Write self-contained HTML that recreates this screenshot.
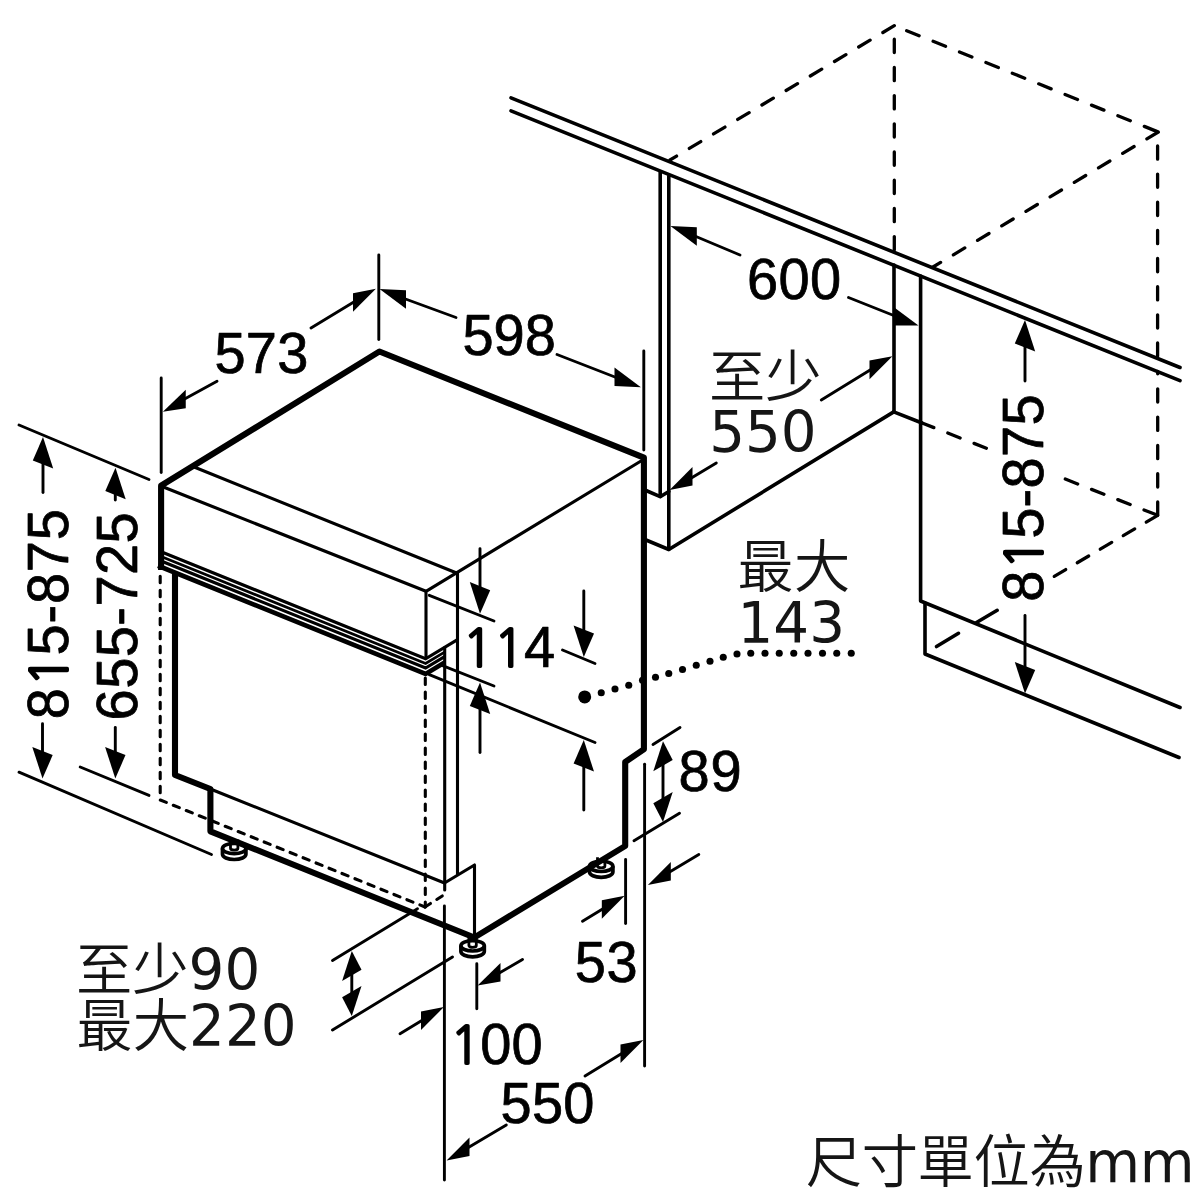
<!DOCTYPE html>
<html lang="zh-Hant">
<head>
<meta charset="utf-8">
<title>尺寸單位為mm</title>
<style>
html,body{margin:0;padding:0;background:#fff;}
body{width:1200px;height:1200px;overflow:hidden;}
svg{display:block;filter:blur(0.35px);}
svg path{fill:none;stroke:#000;}
svg ellipse{stroke:#000;}
</style>
</head>
<body>
<svg width="1200" height="1200" viewBox="0 0 1200 1200">
<rect x="0" y="0" width="1200" height="1200" fill="#fff"/>
<g stroke-width="3.7" fill="#fff" stroke-linejoin="round"><path d="M222.50 848.50 v5.8 a11.7 5.2 0 0 0 23.4 0 v-5.8" /><ellipse cx="234.20" cy="848.50" rx="11.7" ry="5.2"/><path d="M230.50 839.50 V848.30 a3.7 1.8 0 0 0 7.4 0 V839.50" stroke-width="2.8"/></g>
<g stroke-width="3.7" fill="#fff" stroke-linejoin="round"><path d="M460.90 945.80 v5.8 a11.7 5.2 0 0 0 23.4 0 v-5.8" /><ellipse cx="472.60" cy="945.80" rx="11.7" ry="5.2"/><path d="M468.90 936.80 V945.60 a3.7 1.8 0 0 0 7.4 0 V936.80" stroke-width="2.8"/></g>
<g stroke-width="3.7" fill="#fff" stroke-linejoin="round"><path d="M589.50 866.30 v5.8 a11.7 5.2 0 0 0 23.4 0 v-5.8" /><ellipse cx="601.20" cy="866.30" rx="11.7" ry="5.2"/><path d="M597.50 857.30 V866.10 a3.7 1.8 0 0 0 7.4 0 V857.30" stroke-width="2.8"/></g>
<path d="M511.00 97.90 L1180.00 367.50" stroke-width="3.6" stroke-linecap="round" stroke-linejoin="round" />
<path d="M511.00 110.80 L1180.00 380.70" stroke-width="3.6" stroke-linecap="round" stroke-linejoin="round" />
<path d="M660.20 172.00 L660.20 496.50" stroke-width="3.6" stroke-linecap="round" stroke-linejoin="round" />
<path d="M668.80 176.00 L668.80 549.50" stroke-width="3.6" stroke-linecap="round" stroke-linejoin="round" />
<path d="M646.00 490.50 L660.20 496.70 L668.80 491.50" stroke-width="3.6" stroke-linecap="round" stroke-linejoin="round" />
<path d="M646.00 540.00 L668.80 549.50 L893.75 411.90" stroke-width="3.6" stroke-linecap="round" stroke-linejoin="round" />
<path d="M894.00 265.00 L894.00 411.90" stroke-width="3.6" stroke-linecap="round" stroke-linejoin="round" />
<path d="M920.60 276.00 L920.60 601.00 L1180.00 707.50" stroke-width="3.6" stroke-linecap="round" stroke-linejoin="round" />
<path d="M925.00 603.00 L925.00 654.00 L1179.00 757.50" stroke-width="3.6" stroke-linecap="round" stroke-linejoin="round" />
<path d="M893.75 411.90 L922.00 423.00" stroke-width="3.6" stroke-linecap="round" stroke-linejoin="round" />
<path d="M894.30 25.70 L670.00 160.00" stroke-width="3.3" stroke-dasharray="13.3 14.9" stroke-linecap="round" stroke-linejoin="round" stroke-dashoffset="0"/>
<path d="M894.30 25.70 L1158.30 132.00" stroke-width="3.3" stroke-dasharray="13.4 15.06" stroke-linecap="round" stroke-linejoin="round" stroke-dashoffset="15.1"/>
<path d="M894.30 25.70 L894.30 250.00" stroke-width="3.3" stroke-dasharray="13.3 14.9" stroke-linecap="round" stroke-linejoin="round" stroke-dashoffset="14.7"/>
<path d="M1158.30 132.00 L933.00 267.00" stroke-width="3.3" stroke-dasharray="13.3 14.9" stroke-linecap="round" stroke-linejoin="round" stroke-dashoffset="0"/>
<path d="M1157.60 132.00 L1157.60 358.50" stroke-width="3.3" stroke-dasharray="13.3 14.85" stroke-linecap="round" stroke-linejoin="round" stroke-dashoffset="14.25"/>
<path d="M1157.70 515.30 L1157.70 371.50" stroke-width="3.3" stroke-dasharray="13.3 15" stroke-linecap="round" stroke-linejoin="round" stroke-dashoffset="0"/>
<path d="M921.50 422.80 L991.00 450.00" stroke-width="3.3" stroke-dasharray="13.3 14.9" stroke-linecap="round" stroke-linejoin="round" stroke-dashoffset="0"/>
<path d="M1061.00 477.40 L1157.70 515.30" stroke-width="3.3" stroke-dasharray="13.3 14.9" stroke-linecap="round" stroke-linejoin="round" stroke-dashoffset="23.6"/>
<path d="M1157.70 515.30 L1048.00 580.00" stroke-width="3.3" stroke-dasharray="13.3 13.4" stroke-linecap="round" stroke-linejoin="round" stroke-dashoffset="0"/>
<path d="M997.20 610.30 L976.50 622.50" stroke-width="3.6" stroke-linecap="round" stroke-linejoin="round" />
<path d="M958.50 633.30 L936.50 646.50" stroke-width="3.6" stroke-linecap="round" stroke-linejoin="round" />
<path d="M161.10 570.00 L161.10 485.70 L379.40 351.50 L643.90 457.60 L643.90 749.30 L625.20 762.00 L625.20 846.00 L474.30 937.50 L210.40 831.30 L210.40 789.00 L175.00 775.00 L175.00 572.00" stroke-width="6.1" stroke-linecap="butt" stroke-linejoin="round" />
<path d="M194.70 467.30 L456.00 572.70" stroke-width="3.1" stroke-linecap="round" stroke-linejoin="round" />
<path d="M164.00 487.30 L426.00 591.30" stroke-width="3.1" stroke-linecap="round" stroke-linejoin="round" />
<path d="M641.00 461.00 L426.00 591.30 L426.00 657.00" stroke-width="3.1" stroke-linecap="round" stroke-linejoin="round" />
<path d="M161.10 551.80 L425.60 658.79 L457.50 639.65" stroke-width="3.2" stroke-linecap="butt" stroke-linejoin="miter" />
<path d="M161.10 556.50 L425.60 663.49 L445.00 651.85" stroke-width="2.8" stroke-linecap="butt" stroke-linejoin="miter" />
<path d="M161.10 561.10 L425.60 668.09 L445.00 656.45" stroke-width="3.2" stroke-linecap="butt" stroke-linejoin="miter" />
<path d="M158.00 565.75 L425.60 673.99 L445.00 662.35" stroke-width="4.7" stroke-linecap="butt" stroke-linejoin="miter" />
<path d="M457.50 572.50 L457.50 874.00" stroke-width="3.1" stroke-linecap="round" stroke-linejoin="round" />
<path d="M444.70 647.50 L444.70 890.00" stroke-width="3.1" stroke-linecap="round" stroke-linejoin="round" />
<path d="M210.40 789.00 L444.50 883.00 L474.50 865.00 L474.50 936.00" stroke-width="3.1" stroke-linecap="round" stroke-linejoin="round" />
<path d="M160.20 576.30 L160.20 800.00" stroke-width="3.1" stroke-dasharray="6.5 7.5" stroke-linecap="round" stroke-linejoin="round" />
<path d="M160.30 800.00 L425.00 907.00" stroke-width="3.1" stroke-dasharray="6.5 7.5" stroke-linecap="round" stroke-linejoin="round" />
<path d="M425.30 678.00 L425.30 907.00" stroke-width="3.1" stroke-dasharray="6.5 7.5" stroke-linecap="round" stroke-linejoin="round" />
<path d="M425.00 907.00 L444.50 894.50" stroke-width="3.1" stroke-dasharray="6.5 7.5" stroke-linecap="round" stroke-linejoin="round" />
<path d="M161.20 378.00 L161.20 472.50" stroke-width="2.9" stroke-linecap="round" stroke-linejoin="round" />
<path d="M378.80 255.00 L378.80 339.50" stroke-width="2.9" stroke-linecap="round" stroke-linejoin="round" />
<path d="M643.80 351.00 L643.80 450.00" stroke-width="2.9" stroke-linecap="round" stroke-linejoin="round" />
<path d="M311.00 328.00 L360.00 298.30" stroke-width="2.9" stroke-linecap="round" stroke-linejoin="round" />
<polygon points="375.90,288.71 353.00,293.26 353.00,311.86" fill="#000" stroke="none"/>
<path d="M217.00 381.25 L180.00 401.50" stroke-width="2.9" stroke-linecap="round" stroke-linejoin="round" />
<polygon points="162.85,411.75 185.75,389.63 185.75,408.23" fill="#000" stroke="none"/>
<path d="M456.00 317.50 L400.00 297.00" stroke-width="2.9" stroke-linecap="round" stroke-linejoin="round" />
<polygon points="379.60,288.89 406.00,290.15 406.00,308.75" fill="#000" stroke="none"/>
<path d="M557.00 354.50 L620.00 379.00" stroke-width="2.9" stroke-linecap="round" stroke-linejoin="round" />
<polygon points="640.90,387.36 614.50,367.50 614.50,386.10" fill="#000" stroke="none"/>
<path d="M740.00 255.00 L690.00 234.00" stroke-width="2.9" stroke-linecap="round" stroke-linejoin="round" />
<polygon points="670.40,225.94 696.80,227.20 696.80,245.80" fill="#000" stroke="none"/>
<path d="M848.50 297.50 L900.00 318.00" stroke-width="2.9" stroke-linecap="round" stroke-linejoin="round" />
<polygon points="918.50,325.50 894.30,307.50 894.30,325.50" fill="#000" stroke="none"/>
<path d="M821.30 400.00 L875.00 367.00" stroke-width="2.9" stroke-linecap="round" stroke-linejoin="round" />
<polygon points="892.40,356.16 869.50,360.60 869.50,379.20" fill="#000" stroke="none"/>
<path d="M716.30 463.00 L688.00 480.00" stroke-width="2.9" stroke-linecap="round" stroke-linejoin="round" />
<polygon points="669.60,490.04 692.50,467.00 692.50,485.60" fill="#000" stroke="none"/>
<path d="M1025.00 340.00 L1025.00 381.00" stroke-width="2.9" stroke-linecap="round" stroke-linejoin="round" />
<polygon points="1025.00,320.00 1014.80,343.42 1035.20,351.58" fill="#000" stroke="none"/>
<path d="M1025.00 615.50 L1025.00 675.00" stroke-width="2.9" stroke-linecap="round" stroke-linejoin="round" />
<polygon points="1025.00,693.50 1014.80,661.92 1035.20,670.08" fill="#000" stroke="none"/>
<path d="M19.00 425.00 L149.00 479.50" stroke-width="2.9" stroke-linecap="round" stroke-linejoin="round" />
<path d="M19.00 772.20 L211.50 854.50" stroke-width="2.9" stroke-linecap="round" stroke-linejoin="round" />
<path d="M80.20 767.00 L149.00 795.40" stroke-width="2.9" stroke-linecap="round" stroke-linejoin="round" />
<path d="M43.00 460.00 L43.00 492.50" stroke-width="2.9" stroke-linecap="round" stroke-linejoin="round" />
<polygon points="43.00,437.00 32.80,460.42 53.20,468.58" fill="#000" stroke="none"/>
<path d="M42.50 723.80 L42.50 760.00" stroke-width="2.9" stroke-linecap="round" stroke-linejoin="round" />
<polygon points="42.50,778.50 32.30,746.92 52.70,755.08" fill="#000" stroke="none"/>
<path d="M115.30 490.00 L115.30 500.00" stroke-width="2.9" stroke-linecap="round" stroke-linejoin="round" />
<polygon points="115.50,467.70 105.30,491.12 125.70,499.28" fill="#000" stroke="none"/>
<path d="M115.30 727.50 L115.30 760.00" stroke-width="2.9" stroke-linecap="round" stroke-linejoin="round" />
<polygon points="115.30,778.50 105.10,746.92 125.50,755.08" fill="#000" stroke="none"/>
<path d="M429.30 595.30 L494.00 621.00" stroke-width="2.9" stroke-linecap="round" stroke-linejoin="round" />
<path d="M440.00 664.70 L494.00 686.00" stroke-width="2.9" stroke-linecap="round" stroke-linejoin="round" />
<path d="M480.00 548.80 L480.00 595.00" stroke-width="2.9" stroke-linecap="round" stroke-linejoin="round" />
<polygon points="480.00,613.70 469.80,582.12 490.20,590.28" fill="#000" stroke="none"/>
<path d="M480.00 700.00 L480.00 752.50" stroke-width="2.9" stroke-linecap="round" stroke-linejoin="round" />
<polygon points="480.00,682.50 469.80,705.92 490.20,714.08" fill="#000" stroke="none"/>
<path d="M562.50 650.00 L595.00 663.50" stroke-width="2.9" stroke-linecap="round" stroke-linejoin="round" />
<path d="M429.30 674.70 L595.00 742.50" stroke-width="2.9" stroke-linecap="round" stroke-linejoin="round" />
<path d="M583.80 591.00 L583.80 640.00" stroke-width="2.9" stroke-linecap="round" stroke-linejoin="round" />
<polygon points="583.80,657.00 573.60,625.42 594.00,633.58" fill="#000" stroke="none"/>
<path d="M583.80 760.00 L583.80 810.00" stroke-width="2.9" stroke-linecap="round" stroke-linejoin="round" />
<polygon points="583.80,740.00 573.60,763.42 594.00,771.58" fill="#000" stroke="none"/>
<circle cx="584.7" cy="696.9" r="6.5" fill="#000" stroke="none"/>
<circle cx="601.25" cy="692.80" r="3.55" fill="#000" stroke="none"/>
<circle cx="615.00" cy="689.05" r="3.55" fill="#000" stroke="none"/>
<circle cx="628.75" cy="685.30" r="3.55" fill="#000" stroke="none"/>
<circle cx="642.50" cy="680.30" r="3.55" fill="#000" stroke="none"/>
<circle cx="655.50" cy="677.30" r="3.55" fill="#000" stroke="none"/>
<circle cx="668.75" cy="673.55" r="3.55" fill="#000" stroke="none"/>
<circle cx="682.50" cy="669.55" r="3.55" fill="#000" stroke="none"/>
<circle cx="696.25" cy="665.30" r="3.55" fill="#000" stroke="none"/>
<circle cx="710.00" cy="661.30" r="3.55" fill="#000" stroke="none"/>
<circle cx="723.25" cy="657.30" r="3.55" fill="#000" stroke="none"/>
<circle cx="737.00" cy="654.05" r="3.55" fill="#000" stroke="none"/>
<circle cx="750.75" cy="653.30" r="3.55" fill="#000" stroke="none"/>
<circle cx="765.00" cy="653.30" r="3.55" fill="#000" stroke="none"/>
<circle cx="779.25" cy="653.30" r="3.55" fill="#000" stroke="none"/>
<circle cx="793.75" cy="653.30" r="3.55" fill="#000" stroke="none"/>
<circle cx="808.00" cy="653.30" r="3.55" fill="#000" stroke="none"/>
<circle cx="822.50" cy="653.30" r="3.55" fill="#000" stroke="none"/>
<circle cx="836.75" cy="653.30" r="3.55" fill="#000" stroke="none"/>
<circle cx="851.25" cy="653.30" r="3.55" fill="#000" stroke="none"/>
<path d="M653.00 744.40 L680.00 727.60" stroke-width="2.9" stroke-linecap="round" stroke-linejoin="round" />
<path d="M634.00 840.80 L679.50 813.20" stroke-width="2.9" stroke-linecap="round" stroke-linejoin="round" />
<path d="M663.00 760.00 L663.00 800.00" stroke-width="2.9" stroke-linecap="round" stroke-linejoin="round" />
<polygon points="663.00,741.30 653.30,771.23 672.70,759.97" fill="#000" stroke="none"/>
<polygon points="663.00,822.00 653.30,803.33 672.70,792.07" fill="#000" stroke="none"/>
<path d="M644.60 764.30 L644.60 1066.00" stroke-width="2.9" stroke-linecap="round" stroke-linejoin="round" />
<path d="M625.60 859.50 L625.60 923.50" stroke-width="2.9" stroke-linecap="round" stroke-linejoin="round" />
<path d="M582.50 921.30 L610.00 904.50" stroke-width="2.9" stroke-linecap="round" stroke-linejoin="round" />
<polygon points="624.70,895.76 601.80,900.20 601.80,918.80" fill="#000" stroke="none"/>
<path d="M698.80 854.50 L665.00 874.70" stroke-width="2.9" stroke-linecap="round" stroke-linejoin="round" />
<polygon points="647.90,885.04 670.80,862.00 670.80,880.60" fill="#000" stroke="none"/>
<path d="M476.80 963.80 L476.80 1008.80" stroke-width="2.9" stroke-linecap="round" stroke-linejoin="round" />
<path d="M522.50 959.50 L495.00 975.50" stroke-width="2.9" stroke-linecap="round" stroke-linejoin="round" />
<polygon points="477.60,985.52 500.50,962.94 500.50,981.54" fill="#000" stroke="none"/>
<path d="M400.00 1033.80 L428.00 1016.80" stroke-width="2.9" stroke-linecap="round" stroke-linejoin="round" />
<polygon points="443.90,1006.96 421.00,1011.40 421.00,1030.00" fill="#000" stroke="none"/>
<path d="M444.40 906.00 L444.40 1180.00" stroke-width="2.9" stroke-linecap="round" stroke-linejoin="round" />
<path d="M506.30 1125.00 L465.00 1149.50" stroke-width="2.9" stroke-linecap="round" stroke-linejoin="round" />
<polygon points="446.60,1160.54 469.50,1137.50 469.50,1156.10" fill="#000" stroke="none"/>
<path d="M585.00 1076.00 L625.00 1051.50" stroke-width="2.9" stroke-linecap="round" stroke-linejoin="round" />
<polygon points="643.40,1039.96 620.50,1044.40 620.50,1063.00" fill="#000" stroke="none"/>
<path d="M332.50 960.50 L417.50 908.80" stroke-width="2.9" stroke-linecap="round" stroke-linejoin="round" />
<path d="M332.50 1030.00 L452.50 957.00" stroke-width="2.9" stroke-linecap="round" stroke-linejoin="round" />
<path d="M351.80 970.00 L351.80 1000.00" stroke-width="2.9" stroke-linecap="round" stroke-linejoin="round" />
<polygon points="351.80,951.00 342.10,980.93 361.50,969.67" fill="#000" stroke="none"/>
<polygon points="351.80,1016.00 342.10,997.33 361.50,986.07" fill="#000" stroke="none"/>
<text transform="translate(214.50 372.50) scale(0.98 1)" font-family="'Liberation Sans', sans-serif" font-size="57.1" fill="#000" stroke="#000" stroke-width="0.75" stroke-linejoin="round"><tspan x="0.00">5</tspan><tspan x="31.96">7</tspan><tspan x="63.92">3</tspan></text>
<text transform="translate(462.50 355.40) scale(0.98 1)" font-family="'Liberation Sans', sans-serif" font-size="57.1" fill="#000" stroke="#000" stroke-width="0.75" stroke-linejoin="round"><tspan x="0.00">5</tspan><tspan x="31.76">9</tspan><tspan x="63.51">8</tspan></text>
<text transform="translate(747.00 299.00) scale(0.98 1)" font-family="'Liberation Sans', sans-serif" font-size="57.1" fill="#000" stroke="#000" stroke-width="0.75" stroke-linejoin="round"><tspan x="0.00">6</tspan><tspan x="32.17">0</tspan><tspan x="64.33">0</tspan></text>
<text transform="translate(461.80 667.20) scale(0.98 1)" font-family="'Liberation Sans', sans-serif" font-size="57.1" fill="#000" stroke="#000" stroke-width="0.75" stroke-linejoin="round"><tspan x="0.85" font-family="NanumGothic, 'Liberation Sans', sans-serif" font-size="51.8" stroke-width="2.0" stroke-linejoin="miter">1</tspan><tspan x="32.60" font-family="NanumGothic, 'Liberation Sans', sans-serif" font-size="51.8" stroke-width="2.0" stroke-linejoin="miter">1</tspan><tspan x="63.51">4</tspan></text>
<text transform="translate(678.40 791.30) scale(0.98 1)" font-family="'Liberation Sans', sans-serif" font-size="57.1" fill="#000" stroke="#000" stroke-width="0.75" stroke-linejoin="round"><tspan x="0.00">8</tspan><tspan x="32.68">9</tspan></text>
<text transform="translate(574.80 981.70) scale(0.98 1)" font-family="'Liberation Sans', sans-serif" font-size="57.1" fill="#000" stroke="#000" stroke-width="0.75" stroke-linejoin="round"><tspan x="0.00">5</tspan><tspan x="32.37">3</tspan></text>
<text transform="translate(449.20 1064.10) scale(0.98 1)" font-family="'Liberation Sans', sans-serif" font-size="57.1" fill="#000" stroke="#000" stroke-width="0.75" stroke-linejoin="round"><tspan x="0.85" font-family="NanumGothic, 'Liberation Sans', sans-serif" font-size="51.8" stroke-width="2.0" stroke-linejoin="miter">1</tspan><tspan x="31.76">0</tspan><tspan x="63.51">0</tspan></text>
<text transform="translate(500.50 1123.30) scale(0.98 1)" font-family="'Liberation Sans', sans-serif" font-size="57.1" fill="#000" stroke="#000" stroke-width="0.75" stroke-linejoin="round"><tspan x="0.00">5</tspan><tspan x="32.06">5</tspan><tspan x="64.13">0</tspan></text>
<text transform="translate(68.10 719.30) rotate(-90) scale(0.98 1)" font-family="'Liberation Sans', sans-serif" font-size="57.1" fill="#000" stroke="#000" stroke-width="0.75" stroke-linejoin="round"><tspan x="0.00">8</tspan><tspan x="33.42" font-family="NanumGothic, 'Liberation Sans', sans-serif" font-size="51.8" stroke-width="2.0" stroke-linejoin="miter">1</tspan><tspan x="65.15">5</tspan><tspan x="97.72">-</tspan><tspan x="117.55">8</tspan><tspan x="150.13">7</tspan><tspan x="182.70">5</tspan></text>
<text transform="translate(136.90 720.40) rotate(-90) scale(0.98 1)" font-family="'Liberation Sans', sans-serif" font-size="57.1" fill="#000" stroke="#000" stroke-width="0.75" stroke-linejoin="round"><tspan x="0.00">6</tspan><tspan x="32.22">5</tspan><tspan x="64.43">5</tspan><tspan x="96.65">-</tspan><tspan x="116.12">7</tspan><tspan x="148.34">2</tspan><tspan x="180.56">5</tspan></text>
<text transform="translate(1042.60 601.80) rotate(-90) scale(0.98 1)" font-family="'Liberation Sans', sans-serif" font-size="57.1" fill="#000" stroke="#000" stroke-width="0.75" stroke-linejoin="round"><tspan x="0.00">8</tspan><tspan x="32.96" font-family="NanumGothic, 'Liberation Sans', sans-serif" font-size="51.8" stroke-width="2.0" stroke-linejoin="miter">1</tspan><tspan x="64.23">5</tspan><tspan x="96.34">-</tspan><tspan x="115.72">8</tspan><tspan x="147.83">7</tspan><tspan x="179.94">5</tspan></text>
<text x="709.00" y="397.40" font-family="'DejaVu Sans', 'Noto Sans CJK SC', sans-serif" font-size="56.3" fill="#151515"><tspan font-weight="350">至少</tspan></text>
<text x="709.20" y="452.00" font-family="'DejaVu Sans', 'Noto Sans CJK SC', sans-serif" font-size="56.3" fill="#151515">550</text>
<text x="737.60" y="586.70" font-family="'DejaVu Sans', 'Noto Sans CJK SC', sans-serif" font-size="56.3" fill="#151515"><tspan font-weight="350">最大</tspan></text>
<text x="737.50" y="642.80" font-family="'DejaVu Sans', 'Noto Sans CJK SC', sans-serif" font-size="56.3" fill="#151515">143</text>
<text x="76.00" y="990.20" font-family="'DejaVu Sans', 'Noto Sans CJK SC', sans-serif" font-size="56.3" fill="#151515"><tspan font-weight="350">至少</tspan>90</text>
<text x="76.50" y="1046.40" font-family="'DejaVu Sans', 'Noto Sans CJK SC', sans-serif" font-size="56.3" fill="#151515"><tspan font-weight="350">最大</tspan>220</text>
<text x="805.80" y="1182.00" font-family="'DejaVu Sans', 'Noto Sans CJK SC', sans-serif" font-size="56.3" fill="#151515" letter-spacing="-0.4"><tspan font-weight="350">尺寸單位為</tspan>mm</text>
</svg>
</body>
</html>
